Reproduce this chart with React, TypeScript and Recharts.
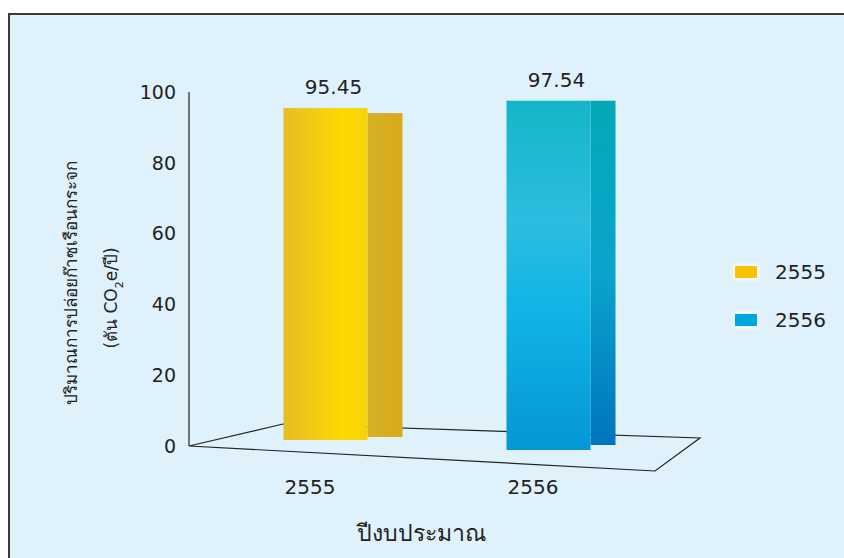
import React from 'react';
import { BarChart, Bar, XAxis, YAxis, ReferenceLine, Legend, LabelList, Cell } from 'recharts';

// ---- data ----
const years = ['2555', '2556'];
const emissions = [95.45, 97.54];
const yTicks = [0, 20, 40, 60, 80, 100];
const legendNames = ['2555', '2556'];
const legendColors = ['#f7c400', '#00a6e0'];
const yLabelLine1 = 'ปริมาณการปล่อยก๊าซเรือนกระจก';
const yLabelLine2a = '(ตัน CO';
const yLabelSub = '2';
const yLabelLine2b = 'e/ปี)';
const xTitle = 'ปีงบประมาณ';

const data = years.map((year, i) => ({ year, value: emissions[i] }));

// ---- styles ----
const FONT = "'DejaVu Sans', 'Noto Sans', sans-serif";
const TEXT = '#222';
const SIDE_W = [35, 25];
const SIDE_TOP = [5, 0];
const BOTTOM_OFF = [-6, 4];
const SIDE_BOTTOM = [3, 5];

const Bar3D = (props: any) => {
  const { x, y, width, height, index } = props;
  if (!height || height <= 0) return null;
  const bottom = y + height + BOTTOM_OFF[index];
  const sw = SIDE_W[index];
  const right = x + width;
  const fid = `front${index}`;
  const sid = `side${index}`;
  return (
    <g>
      <defs>
        {index === 0 ? (
          <>
            <linearGradient id={fid} x1="0" y1="0" x2="1" y2="0">
              <stop offset="0" stopColor="#e6bd22" />
              <stop offset="0.35" stopColor="#f2ca14" />
              <stop offset="0.7" stopColor="#ffd900" />
              <stop offset="1" stopColor="#f8d20a" />
            </linearGradient>
            <linearGradient id={sid} x1="0" y1="0" x2="1" y2="0">
              <stop offset="0" stopColor="#d4b226" />
              <stop offset="1" stopColor="#dba91c" />
            </linearGradient>
          </>
        ) : (
          <>
            <linearGradient id={fid} x1="0" y1="0" x2="0" y2="1">
              <stop offset="0" stopColor="#14b6c8" />
              <stop offset="0.35" stopColor="#2cbde0" />
              <stop offset="0.6" stopColor="#10b4e6" />
              <stop offset="1" stopColor="#0596d6" />
            </linearGradient>
            <linearGradient id={sid} x1="0" y1="0" x2="0" y2="1">
              <stop offset="0" stopColor="#03a8b8" />
              <stop offset="0.5" stopColor="#0aa4cc" />
              <stop offset="1" stopColor="#0074bf" />
            </linearGradient>
          </>
        )}
      </defs>
      <rect x={right} y={y + SIDE_TOP[index]} width={sw} height={bottom - SIDE_BOTTOM[index] - y - SIDE_TOP[index]} fill={`url(#${sid})`} />
      <rect x={x} y={y} width={width} height={bottom - y} fill={`url(#${fid})`} />
    </g>
  );
};

const Floor = (props: any) => {
  const xa = Math.min(props.x1, props.x2);
  const xb = Math.max(props.x1, props.x2);
  const y = props.y1;
  const d = `M${xa},${y} L${xa + 94},${y - 22} L${xb},${y - 8} L${xb - 45},${y + 25} Z`;
  return <path d={d} fill="none" stroke="#222" strokeWidth={1.2} />;
};

const ValueLabel = (props: any) => {
  const { x, y, width, value } = props;
  return (
    <text x={x + width / 2 + 8} y={y - 14} textAnchor="middle" fill={TEXT} fontSize={20} fontFamily={FONT}>
      {value}
    </text>
  );
};

const XTick = (props: any) => {
  const { x, y, payload } = props;
  return (
    <text x={x - 15} y={y} dy="0.71em" textAnchor="middle" fill={TEXT} fontSize={20} fontFamily={FONT}>
      {payload.value}
    </text>
  );
};

const YTitle = (props: any) => {
  const vb = props.viewBox || { x: 0, y: 77, width: 179, height: 354 };
  const cy = vb.y + vb.height / 2;
  const x1 = vb.x + 67;
  const y1 = cy + 14;
  const x2 = vb.x + 107;
  const y2 = cy + 29;
  return (
    <g fill={TEXT} fontFamily={FONT} fontSize={17}>
      <text x={x1} y={y1} textAnchor="middle" transform={`rotate(-90, ${x1}, ${y1})`}>
        {yLabelLine1}
      </text>
      <text x={x2} y={y2} textAnchor="middle" transform={`rotate(-90, ${x2}, ${y2})`}>
        {yLabelLine2a}
        <tspan dy={6} fontSize={11}>{yLabelSub}</tspan>
        <tspan dy={-6}>{yLabelLine2b}</tspan>
      </text>
    </g>
  );
};

const XTitle = (props: any) => {
  const vb = props.viewBox || { x: 179, y: 431, width: 511, height: 60 };
  return (
    <text x={vb.x + vb.width / 2 - 23} y={vb.y + 95} textAnchor="middle" fill={TEXT} fontSize={23} fontFamily={FONT}>
      {xTitle}
    </text>
  );
};

const LegendContent = () => (
  <div style={{ fontFamily: FONT }}>
    {legendNames.map((n, i) => (
      <div key={n} style={{ display: 'flex', alignItems: 'center', height: 48 }}>
        <span
          style={{
            display: 'inline-block',
            width: 22,
            height: 12,
            background: legendColors[i],
            boxShadow: '0 0 4px 2px rgba(255,255,255,0.9)',
          }}
        />
        <span style={{ marginLeft: 18, fontSize: 20, color: TEXT }}>{n}</span>
      </div>
    ))}
  </div>
);

export default function App() {
  return (
    <>
      <style>{`body{margin:0;overflow:hidden}`}</style>
      <div
        style={{
          position: 'absolute',
          left: 8,
          top: 13,
          width: 836,
          height: 545,
          boxSizing: 'border-box',
          background: '#dff1fa',
          borderTop: '2px solid #3a3a3a',
          borderLeft: '2px solid #3a3a3a',
        }}
      >
        <BarChart width={834} height={543} data={data} margin={{ top: 77, right: 144, bottom: 52, left: 0 }}>
          <ReferenceLine y={0} shape={Floor} {...({ zIndex: 100 } as any)} />
          <XAxis
            dataKey="year"
            axisLine={false}
            tickLine={false}
            tickSize={0}
            tickMargin={34}
            height={60}
            padding={{ left: 24.5, right: 40.5 }}
            tick={XTick}
            label={{ content: XTitle }}
          />
          <YAxis
            domain={[0, 100]}
            ticks={yTicks}
            width={179}
            tickLine={false}
            tickSize={0}
            tickMargin={13}
            axisLine={{ stroke: '#222', strokeWidth: 1.2 }}
            tick={{ fill: TEXT, fontSize: 19, fontFamily: FONT }}
            label={{ content: YTitle }}
          />
          <Legend
            content={LegendContent}
            layout="vertical"
            align="center"
            verticalAlign="middle"
            wrapperStyle={{ left: 725, top: 233, width: 110 }}
          />
          <Bar dataKey="value" barSize={84} shape={Bar3D} isAnimationActive={false}>
            {data.map((d, i) => (
              <Cell key={d.year} fill={legendColors[i]} />
            ))}
            <LabelList dataKey="value" content={ValueLabel} />
          </Bar>
        </BarChart>
      </div>
    </>
  );
}
